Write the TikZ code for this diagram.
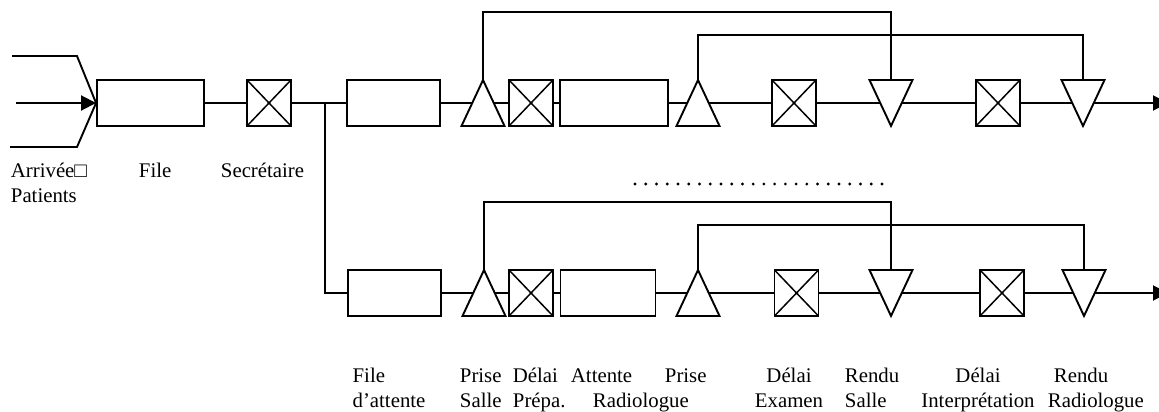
\documentclass[tikz,border=0pt]{standalone}
\usepackage{fontspec}
\setmainfont{Liberation Serif}
\usetikzlibrary{shapes.geometric,arrows.meta}
\begin{document}
\begin{tikzpicture}[
x=1pt,y=-1pt,
line width=1.9pt,
queue/.style={
rectangle,draw,
minimum width=93pt,
minimum height=46pt,
inner sep=0pt
},
delay/.style={
rectangle,draw,
minimum width=44pt,
minimum height=46pt,
inner sep=0pt,
path picture={
\draw[line width=1.5pt] (path picture bounding box.south west) -- (path picture bounding box.north east)
(path picture bounding box.north west) -- (path picture bounding box.south east);}
},
take/.style={
isosceles triangle,draw,
isosceles triangle stretches,
shape border rotate=90,
minimum width=43pt,
minimum height=46pt,
inner sep=0pt,outer sep=0pt,
anchor=apex
},
release/.style={take,shape border rotate=270},
arrow/.style={-{Triangle[length=15pt,width=15pt]}},
txt/.style={
inner sep=0pt,align=left,anchor=north west,
font=\fontsize{20.8}{25}\selectfont
}
]
\useasboundingbox (0,0) rectangle (1159,412);

% =======================
% ARRIVALS + SECRETARY
% =======================

\node[queue,minimum width=107pt] (file) at (150.5,103) {};
\node[delay] (secr) at (269,103) {};

\coordinate (in1) at (12,56);
\coordinate (in2) at (16,103);
\coordinate (in3) at (10,147);
\coordinate (split) at (325,103);

\node[txt] (t-arr) at (10,159.2) {\strut Arrivée□\\Patients};
\node[txt] (t-file) at (138,159.2) {\strut File};
\node[txt] (t-secr) at (220,159.2) {\strut Secrétaire};

% =======================
% UPPER ROOM
% =======================

\node[queue] (f1) at (393.5,103) {};
\node[take] (ps1) at (483,80) {};
\node[delay] (dp1) at (531,103) {};
\node[queue,minimum width=108pt] (ar1) at (614,103) {};
\node[take] (pr1) at (698,80) {};
\node[delay] (de1) at (794,103) {};
\node[release] (rs1) at (891,126) {};
\node[delay] (di1) at (998,103) {};
\node[release] (rr1) at (1083,126) {};
\coordinate (out1) at (1168,103);

% =======================
% LOWER ROOM
% =======================

\node[queue] (f2) at (394.5,293) {};
\node[take] (ps2) at (484,270) {};
\node[delay] (dp2) at (531,293) {};
\node[queue,minimum width=95pt] (ar2) at (608,293) {};
\node[take] (pr2) at (698,270) {};
\node[delay] (de2) at (796.5,293) {};
\node[release] (rs2) at (891,316) {};
\node[delay] (di2) at (1002,293) {};
\node[release] (rr2) at (1084,316) {};
\coordinate (out2) at (1168,293);

\coordinate (dots1) at (635,184);
\coordinate (dots2) at (884,184);
\draw[line width=3.2pt,line cap=round,dash pattern=on 0pt off 10.74pt] (dots1) -- (dots2);

% =======================
% LABELS
% =======================

\node[txt] (t-f) at (351.7,364.2) {\strut File\\d’attente};
\node[txt] (t-ps) at (459,364.2) {\strut Prise\\Salle};
\node[txt] (t-dp) at (512,364.2) {\strut Délai\\Prépa.};
\node[txt] (t-at) at (570,364.2) {\strut Attente};
\node[txt] (t-pr) at (664,364.2) {\strut Prise};
\node[txt] (t-rad) at (592,389.2) {\strut Radiologue};
\node[txt,align=center,anchor=north] (t-de) at (789,364.2) {\strut Délai\\Examen};
\node[txt] (t-rs) at (844,364.2) {\strut Rendu\\Salle};
\node[txt,align=center,anchor=north] (t-di) at (978,364.2) {\strut Délai\\Interprétation};
\node[txt] (t-rr) at (1047,364.2) {\strut\hspace*{6pt}Rendu\\Radiologue};

% =======================
% ARROWS
% =======================

\draw (in1) -- ++(65,0) -- (file.west);
\draw[arrow] (in2) -- (file.west);
\draw (in3) -- ++(67,0) -- (file.west);
\draw (file) -- (secr);
\draw (secr) -- (f1);
\draw (split) |- (f2);

\draw (f1) -- (ps1.left side);
\draw (ps1.right side) -- (dp1);
\draw (dp1) -- (ar1);
\draw (ar1) -- (pr1.left side);
\draw (pr1.right side) -- (de1);
\draw (de1) -- (rs1.right side);
\draw (rs1.left side) -- (di1);
\draw (di1) -- (rr1.right side);
\draw[arrow] (rr1.left side) -- (out1);
\draw (ps1.apex) -- ++(0,-68) -| (rs1.lower side);
\draw (pr1.apex) -- ++(0,-45) -| (rr1.lower side);

\draw (f2) -- (ps2.left side);
\draw (ps2.right side) -- (dp2);
\draw (dp2) -- (ar2);
\draw (ar2) -- (pr2.left side);
\draw (pr2.right side) -- (de2);
\draw (de2) -- (rs2.right side);
\draw (rs2.left side) -- (di2);
\draw (di2) -- (rr2.right side);
\draw[arrow] (rr2.left side) -- (out2);
\draw (ps2.apex) -- ++(0,-68) -| (rs2.lower side);
\draw (pr2.apex) -- ++(0,-45) -| (rr2.lower side);

\end{tikzpicture}
\end{document}
